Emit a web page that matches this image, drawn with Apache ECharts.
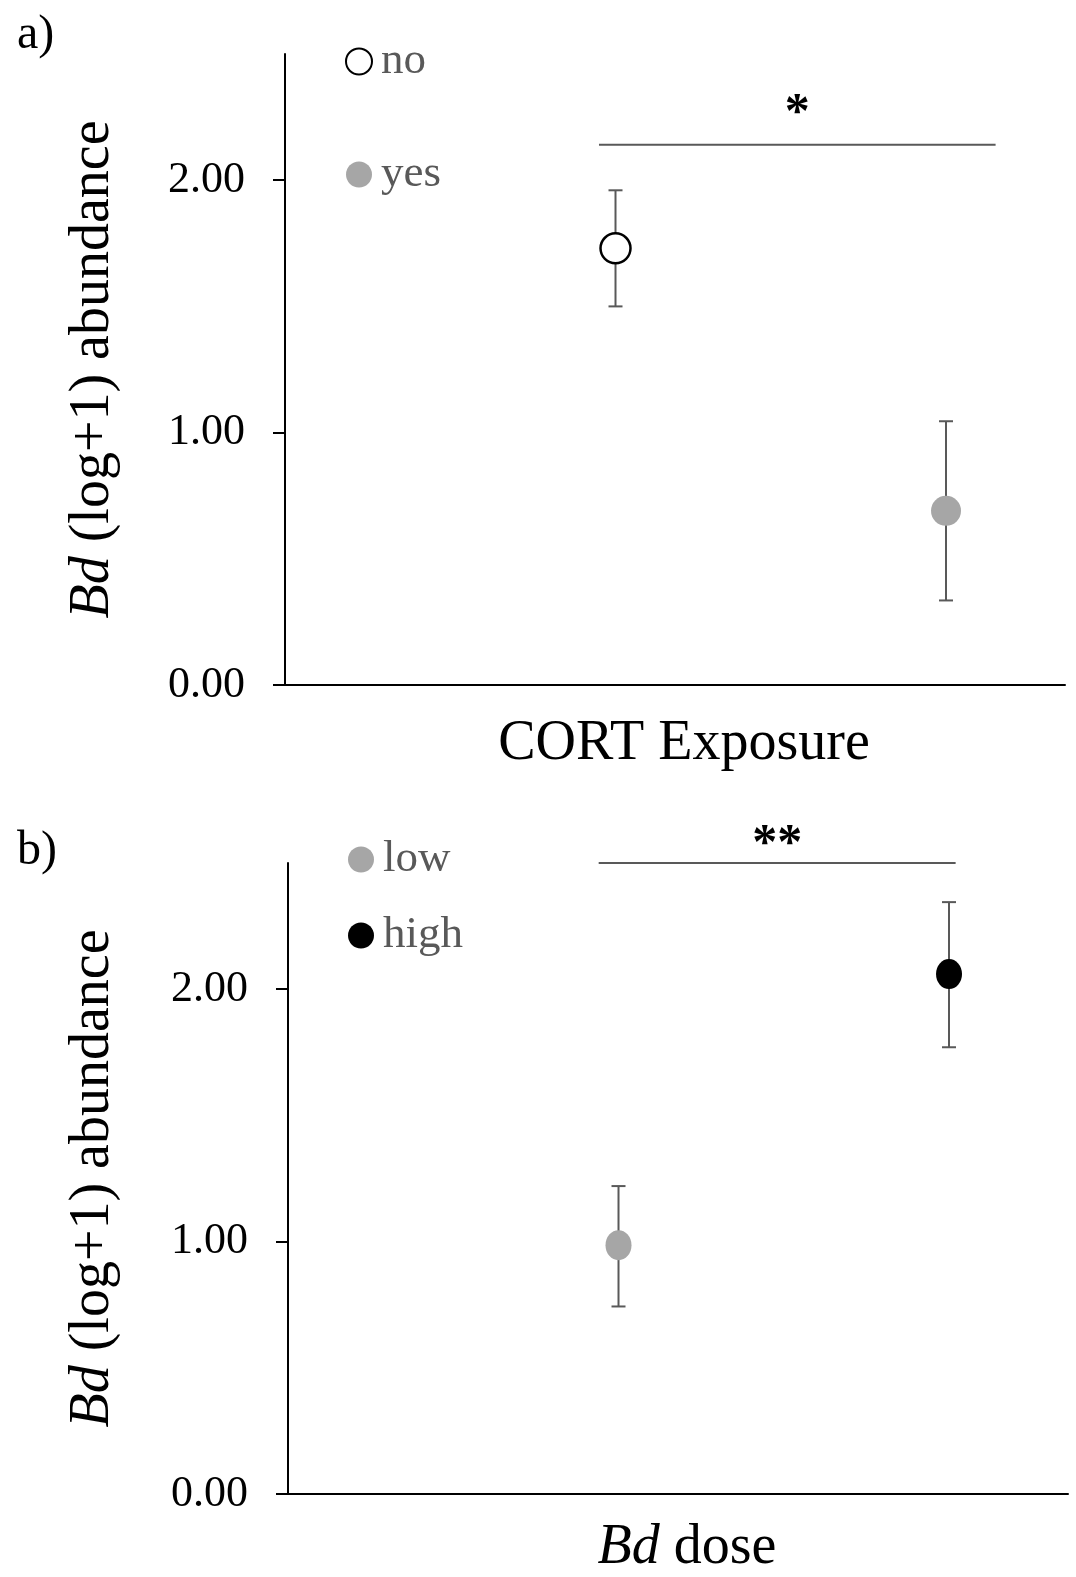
<!DOCTYPE html>
<html>
<head>
<meta charset="utf-8">
<script src="https://cdn.jsdelivr.net/npm/echarts@6/dist/echarts.min.js"></script>
<style>
  html, body { margin: 0; padding: 0; background: #fff; }
  #chart { width: 1076px; height: 1577px; }
</style>
</head>
<body>
<div id="chart"></div>
<script>
// panel a: CORT exposure
const groupsA = ['no', 'yes']
const xPosA = [1, 2]
const meanA = [1.73, 0.69]
const lowA = [1.50, 0.335]
const highA = [1.96, 1.045]
const sigA = [0.95, 2.15, 2.14, 2.26]   // x1, x2, bracket y, star y
const starA = '*'

// panel b: Bd dose
const groupsB = ['low', 'high']
const xPosB = [1, 2]
const meanB = [0.986, 2.06]
const lowB = [0.743, 1.77]
const highB = [1.22, 2.345]
const sigB = [0.94, 2.02, 2.50, 2.57]
const starB = '**'

const yTicks = [0, 1, 2]

const FONT = 'Liberation Serif'
const GREY = '#a6a6a6'
const BAR = '#595959'

const chart = echarts.init(document.getElementById('chart'))

const renderErr = (params, api) => {
  const x = api.value(0)
  const lo = api.coord([x, api.value(1)])
  const hi = api.coord([x, api.value(2)])
  const cap = 7
  const style = { stroke: BAR, lineWidth: 2 }
  return {
    type: 'group',
    children: [
      { type: 'line', shape: { x1: lo[0], y1: lo[1], x2: hi[0], y2: hi[1] }, style },
      { type: 'line', shape: { x1: lo[0] - cap, y1: lo[1], x2: lo[0] + cap, y2: lo[1] }, style },
      { type: 'line', shape: { x1: hi[0] - cap, y1: hi[1], x2: hi[0] + cap, y2: hi[1] }, style },
    ],
  }
}

const renderSig = (params, api) => {
  const a = api.coord([api.value(0), api.value(2)])
  const b = api.coord([api.value(1), api.value(2)])
  const s = api.coord([(api.value(0) + api.value(1)) / 2, api.value(3)])
  return {
    type: 'group',
    children: [
      { type: 'line', shape: { x1: a[0], y1: a[1], x2: b[0], y2: b[1] }, style: { stroke: BAR, lineWidth: 2 } },
      {
        type: 'text',
        x: s[0],
        y: s[1],
        style: {
          text: params.seriesIndex === 4 ? starA : starB,
          font: `bold 50px "${FONT}"`,
          fill: '#000',
          align: 'center',
          verticalAlign: 'middle',
        },
      },
    ],
  }
}

const yAxisBase = (gridIndex, gap) => ({
  type: 'value',
  gridIndex,
  min: 0,
  max: 2.5,
  interval: 1,
  name: '{i|Bd} (log+1) abundance',
  nameLocation: 'middle',
  nameGap: gap,
  nameTextStyle: {
    fontFamily: FONT,
    fontSize: 56,
    color: '#000',
    rich: { i: { fontFamily: FONT, fontSize: 56, fontStyle: 'italic', color: '#000' } },
  },
  axisLine: { show: true, lineStyle: { color: '#000', width: 2 } },
  axisTick: { show: true, length: 12, lineStyle: { color: '#000', width: 2 }, customValues: yTicks },
  axisLabel: {
    margin: 40,
    fontFamily: FONT,
    fontSize: 44,
    color: '#000',
    customValues: yTicks,
    formatter: (v) => v.toFixed(2),
  },
  splitLine: { show: false },
})

const xAxisBase = (gridIndex, name, gap) => ({
  type: 'value',
  gridIndex,
  min: 0,
  max: 2.36,
  name,
  nameLocation: 'middle',
  nameGap: gap,
  nameTextStyle: {
    fontFamily: FONT,
    fontSize: 56,
    color: '#000',
    padding: [0, 0, 0, 18],
    rich: { i: { fontFamily: FONT, fontSize: 56, fontStyle: 'italic', color: '#000' } },
  },
  axisLine: { show: true, onZero: false, lineStyle: { color: '#000', width: 2 } },
  axisTick: { show: false },
  axisLabel: { show: false },
  splitLine: { show: false },
})

const legendBase = (data, left, top, gap) => ({
  data,
  orient: 'vertical',
  left,
  top,
  itemGap: gap,
  itemWidth: 34,
  itemHeight: 26,
  icon: 'circle',
  textStyle: { fontFamily: FONT, fontSize: 45, color: '#595959' },
  selectedMode: false,
})

chart.setOption({
  backgroundColor: '#fff',
  animation: false,
  title: [
    { text: 'a)', left: 12, top: 6, textStyle: { fontFamily: FONT, fontSize: 48, fontWeight: 'normal', color: '#000' } },
    { text: 'b)', left: 12, top: 822, textStyle: { fontFamily: FONT, fontSize: 48, fontWeight: 'normal', color: '#000' } },
  ],
  grid: [
    { left: 285, top: 54, width: 780, height: 631 },
    { left: 288, top: 863, width: 780, height: 632.5 },
  ],
  xAxis: [xAxisBase(0, 'CORT Exposure', 31), xAxisBase(1, '{i|Bd} dose', 26)],
  yAxis: [yAxisBase(0, 164), yAxisBase(1, 167)],
  legend: [
    legendBase(groupsA, 340, 34, 68),
    legendBase(groupsB, 343, 832, 31),
  ],
  series: [
    {
      type: 'custom', xAxisIndex: 0, yAxisIndex: 0, z: 1,
      renderItem: renderErr,
      data: xPosA.map((x, i) => [x, lowA[i], highA[i]]),
    },
    {
      name: groupsA[0], type: 'scatter', xAxisIndex: 0, yAxisIndex: 0, z: 3,
      symbolSize: 30,
      itemStyle: { color: '#fff', borderColor: '#000', borderWidth: 2.5, opacity: 1 },
      data: [[xPosA[0], meanA[0]]],
    },
    {
      name: groupsA[1], type: 'scatter', xAxisIndex: 0, yAxisIndex: 0, z: 3,
      symbolSize: 30,
      itemStyle: { color: GREY, opacity: 1 },
      data: [[xPosA[1], meanA[1]]],
    },
    {
      type: 'custom', xAxisIndex: 1, yAxisIndex: 1, z: 1,
      renderItem: renderErr,
      data: xPosB.map((x, i) => [x, lowB[i], highB[i]]),
    },
    {
      type: 'custom', xAxisIndex: 0, yAxisIndex: 0, z: 1, clip: false,
      renderItem: renderSig,
      data: [sigA],
    },
    {
      type: 'custom', xAxisIndex: 1, yAxisIndex: 1, z: 1, clip: false,
      renderItem: renderSig,
      data: [sigB],
    },
    {
      name: groupsB[0], type: 'scatter', xAxisIndex: 1, yAxisIndex: 1, z: 3,
      symbolSize: [26, 30],
      itemStyle: { color: GREY, opacity: 1 },
      data: [[xPosB[0], meanB[0]]],
    },
    {
      name: groupsB[1], type: 'scatter', xAxisIndex: 1, yAxisIndex: 1, z: 3,
      symbolSize: [26, 30],
      itemStyle: { color: '#000', opacity: 1 },
      data: [[xPosB[1], meanB[1]]],
    },
  ],
})
</script>
</body>
</html>
